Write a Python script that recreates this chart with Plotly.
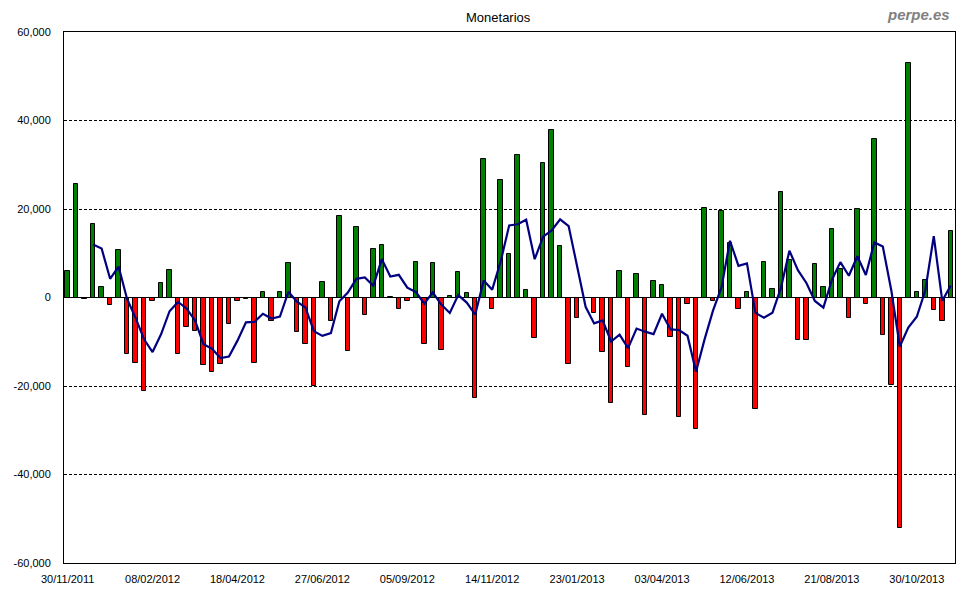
import pandas as pd
import plotly.graph_objects as go

# Weekly net flows (Monetarios), first week 30/11/2011
start_date = "2011-11-30"
flows = [
    6000, 25600, -300, 16600, 2400, -1800, 10800, -12700, -14700, -21200,
    -700, 3300, 6200, -12800, -6600, -7500, -15300, -16900, -15100, -6100,
    -900, -400, -14700, 1300, -5200, 1300, 7800, -7700, -10400, -20100,
    3500, -5200, 18400, -12200, 15900, -4000, 10900, 11900, 200, -2500,
    -700, 8000, -10400, 7800, -11800, 400, 5800, 1000, -22600, 31200,
    -2500, 26600, 9900, 32200, 1600, -9100, 30300, 37800, 11600, -15100,
    -4700, -200, -3400, -12400, -23800, 6000, -15600, 5300, -26600, 3800,
    2800, -8900, -27100, -1400, -29800, 20200, -900, 19600, 12400, -2500,
    1300, -25100, 8000, 2000, 23800, 8500, -9600, -9600, 7600, 2400,
    15500, 6500, -4700, 20000, -1400, 35900, -8400, -19700, -52100, 53100,
    1300, 4000, -2900, -5400, 15000,
]

# 4-week average line (starts at the 4th week)
avg4 = [
    None, None, None,
    11975, 11075, 4225, 7000, -325, -4600, -9450, -12325, -8325, -3100,
    -1000, -2475, -5175, -10550, -11575, -13700, -13350, -9750, -5625, -5525,
    -3675, -4750, -4325, 1300, -950, -2250, -7600, -8675, -8050, -850,
    1125, 4225, 4525, 2650, 8675, 4750, 5125, 2225, 1250, -1400,
    1175, -1600, -3500, 550, -1150, -3850, 3850, 1775, 8175, 16300,
    16550, 17575, 8650, 13750, 15150, 17650, 16150, 7400, -2100, -5850,
    -5175, -9950, -8400, -11450, -7025, -7725, -8275, -3675, -7225, -7350,
    -8650, -16800, -9525, -2975, 2275, 12825, 7150, 7700, -3475, -4575,
    -3450, 2175, 10575, 6175, 3275, -775, -2300, 3975, 8000, 4925,
    9325, 5100, 12450, 11525, 1600, -11075, -6775, -4350, 1575, 13875,
    -750, 2675,
]

y_tickvals = [60000, 40000, 20000, 0, -20000, -40000, -60000]
y_ticktext = ["60,000", "40,000", "20,000", "0", "-20,000", "-40,000", "-60,000"]

weeks = pd.date_range(start_date, periods=len(flows), freq="7D")
bar_colors = ["#008000" if v >= 0 else "#ff0000" for v in flows]

DAY_MS = 86400000

fig = go.Figure()
fig.add_trace(go.Bar(
    x=weeks, y=flows,
    width=3.7 * DAY_MS,
    marker=dict(color=bar_colors, line=dict(color="black", width=1)),
    showlegend=False,
))
fig.add_trace(go.Scatter(
    x=weeks, y=avg4, mode="lines",
    line=dict(color="#000080", width=2.2),
    connectgaps=False,
    showlegend=False,
))

fig.update_layout(
    width=980, height=600,
    margin=dict(l=64, r=25, t=32, b=37, autoexpand=False),
    paper_bgcolor="white", plot_bgcolor="white",
    font=dict(family="Liberation Sans, Arial, sans-serif", size=11, color="black"),
    bargap=0,
    annotations=[
        dict(text="Monetarios", xref="paper", yref="paper", x=0.488, y=1,
             xanchor="center", yanchor="middle", yshift=15, showarrow=False,
             font=dict(family="Liberation Sans, Arial, sans-serif", size=13, color="black")),
        dict(text="<b><i>perpe.es</i></b>", xref="paper", yref="paper", x=1, y=1,
             xanchor="right", yanchor="middle", xshift=-3, yshift=18, showarrow=False,
             font=dict(family="Liberation Sans, Arial, sans-serif", size=15, color="#808080")),
    ],
)

fig.update_xaxes(
    type="date", automargin=False,
    range=["2011-11-27", "2013-11-30 12:00"],
    tick0=start_date, dtick=70 * DAY_MS,
    tickformat="%d/%m/%Y",
    ticks="outside", ticklen=6, tickcolor="rgba(0,0,0,0)",
    showgrid=False, zeroline=False,
    showline=True, linecolor="black", linewidth=1, mirror=True,
)
fig.update_yaxes(
    automargin=False,
    range=[-60000, 60000],
    tickvals=y_tickvals, ticktext=y_ticktext,
    ticks="outside", ticklen=10, tickcolor="rgba(0,0,0,0)",
    showgrid=True, gridcolor="black", gridwidth=1, griddash="3px,2px",
    zeroline=True, zerolinecolor="black", zerolinewidth=1,
    showline=True, linecolor="black", linewidth=1, mirror=True,
)

# remove the default page margin so the figure fills the window exactly
fig.write_html(
    "out.html",
    config={"displayModeBar": False},
    post_script="document.body.style.margin='0px';",
)
